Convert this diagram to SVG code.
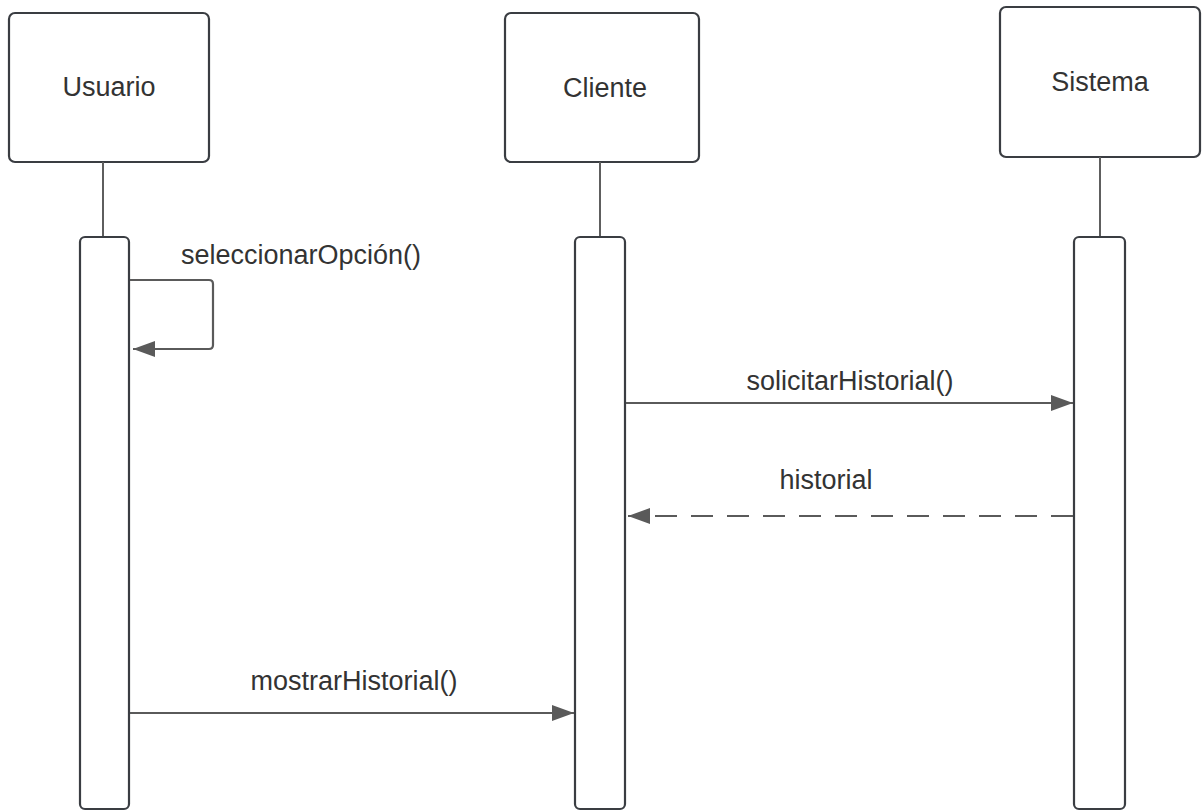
<svg xmlns="http://www.w3.org/2000/svg" width="1202" height="811" viewBox="0 0 1202 811">
<style>
.box{fill:#fff;stroke:#3a3d42;stroke-width:2.2}
.life{stroke:#5e5e5e;stroke-width:2;fill:none}
.msg{stroke:#5a5a5a;stroke-width:2.2;fill:none}
.t{font-family:"Liberation Sans",Arial,sans-serif;font-size:27px;fill:#333;text-anchor:middle}
</style>
<defs>
<marker id="ah" viewBox="0 0 22 16" refX="22" refY="8" markerWidth="22" markerHeight="16" markerUnits="userSpaceOnUse" orient="auto">
<path d="M0,0 L22,8 L0,16 Z" fill="#5a5a5a"/>
</marker>
</defs>
<rect width="1202" height="811" fill="#fff"/>
<g id="usuario">
<rect class="box" x="9" y="13" width="200" height="149" rx="6"/>
<text class="t" x="109" y="96">Usuario</text>
<line class="life" x1="103" y1="162" x2="103" y2="237"/>
<rect class="box" x="80" y="237" width="49" height="572" rx="5"/>
</g>
<g id="cliente">
<rect class="box" x="505" y="13" width="194" height="149" rx="6"/>
<text class="t" x="605" y="97">Cliente</text>
<line class="life" x1="600" y1="162" x2="600" y2="237"/>
<rect class="box" x="575" y="237" width="50" height="572" rx="5"/>
</g>
<g id="sistema">
<rect class="box" x="1000" y="7" width="200" height="150" rx="6"/>
<text class="t" x="1100" y="91">Sistema</text>
<line class="life" x1="1100" y1="157" x2="1100" y2="237"/>
<rect class="box" x="1074" y="237" width="51" height="572" rx="5"/>
</g>
<g id="connectors">
<path class="msg" d="M130,280 H209 Q213,280 213,284 V345 Q213,349 209,349 H133" marker-end="url(#ah)"/>
<text class="t" x="301" y="264">seleccionarOpción()</text>
<line class="msg" x1="626" y1="403" x2="1073" y2="403" marker-end="url(#ah)"/>
<text class="t" x="850" y="390">solicitarHistorial()</text>
<line class="msg" x1="1073" y1="516" x2="628" y2="516" stroke-dasharray="22 14" marker-end="url(#ah)"/>
<text class="t" x="826" y="489">historial</text>
<line class="msg" x1="130" y1="713" x2="574" y2="713" marker-end="url(#ah)"/>
<text class="t" x="354" y="690">mostrarHistorial()</text>
</g>
</svg>
